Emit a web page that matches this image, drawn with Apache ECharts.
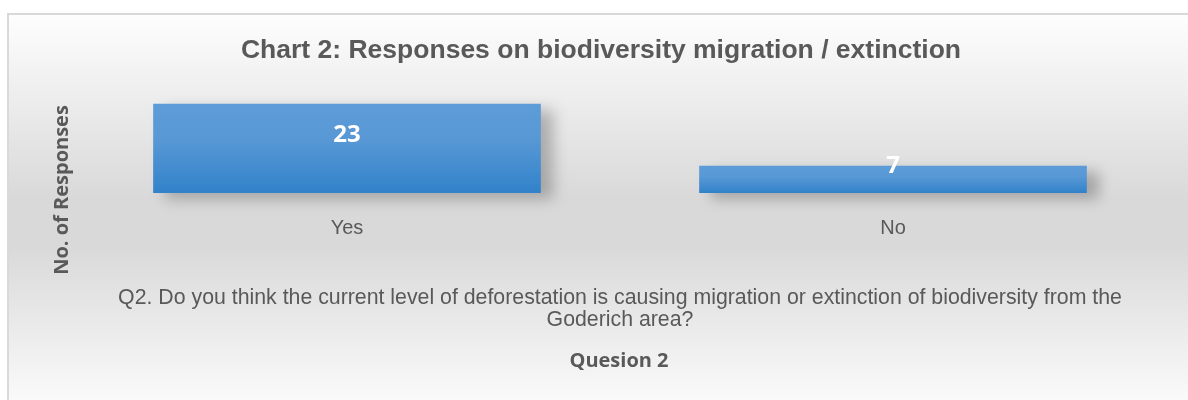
<!DOCTYPE html>
<html>
<head>
<meta charset="utf-8">
<title>Chart 2: Responses on biodiversity migration / extinction</title>
<script src="https://cdn.jsdelivr.net/npm/echarts@6/dist/echarts.min.js"></script>
<style>
  html, body { margin: 0; padding: 0; background: #ffffff; }
  #chart { width: 1188px; height: 400px; }
</style>
</head>
<body>
<div id="chart"></div>
<script>
// Survey answers to question 2
const categories = ['Yes', 'No'];
const responses = [23, 7];
const chartTitle = 'Chart 2: Responses on biodiversity migration / extinction';
const questionText = 'Q2. Do you think the current level of deforestation is causing migration or extinction of biodiversity from the\nGoderich area?';
const xAxisTitle = 'Quesion 2';
const yAxisTitle = 'No. of Responses';

const textGrey = '#595959';
const sansFont = '"Liberation Sans", Arial, sans-serif';
const boldFont = '"Open Sans", "Noto Sans", sans-serif';

const chart = echarts.init(document.getElementById('chart'), null, { renderer: 'canvas' });

chart.setOption({
  backgroundColor: '#ffffff',
  animation: false,
  title: [
    {
      text: chartTitle,
      left: 601, top: 37, textAlign: 'center', padding: 0,
      textStyle: { fontFamily: sansFont, fontSize: 26.5, fontWeight: 'bold', color: textGrey }
    },
    {
      text: questionText,
      left: 620, top: 287, textAlign: 'center', padding: 0,
      textStyle: { fontFamily: sansFont, fontSize: 21.3, fontWeight: 'normal', color: textGrey, lineHeight: 22 }
    },
    {
      text: xAxisTitle,
      left: 619, top: 351, textAlign: 'center', padding: 0,
      textStyle: { fontFamily: boldFont, fontSize: 20, fontWeight: 'bold', color: textGrey }
    }
  ],
  graphic: [
    {
      type: 'rect', z: -10, silent: true,
      shape: { x: 8, y: 14, width: 1200, height: 400 },
      style: {
        fill: new echarts.graphic.LinearGradient(0, 0, 0, 1, [
          { offset: 0, color: '#fefefe' },
          { offset: 0.46, color: '#d9d9d9' },
          { offset: 0.58, color: '#d9d9d9' },
          { offset: 1, color: '#fdfdfd' }
        ]),
        stroke: '#d9d9d9', lineWidth: 2
      }
    },
    {
      type: 'text', silent: true,
      x: 62, y: 190, rotation: Math.PI / 2,
      style: {
        text: yAxisTitle, fill: textGrey,
        font: 'bold 20px ' + boldFont,
        align: 'center', verticalAlign: 'middle'
      }
    }
  ],
  grid: { left: 74, right: 22, top: 96, bottom: 207, containLabel: false },
  xAxis: {
    type: 'category',
    data: categories,
    axisLine: { show: false },
    axisTick: { show: false },
    axisLabel: { margin: 25, fontFamily: sansFont, fontSize: 20, color: textGrey }
  },
  yAxis: {
    type: 'value',
    min: 0, max: 25,
    show: false,
    splitLine: { show: false }
  },
  series: [{
    type: 'bar',
    data: responses,
    barWidth: '71%',
    itemStyle: {
      color: new echarts.graphic.LinearGradient(0, 0, 0, 1, [
        { offset: 0, color: '#5d9cd7' },
        { offset: 0.4, color: '#5898d5' },
        { offset: 1, color: '#3182ca' }
      ]),
      shadowColor: 'rgba(0,0,0,0.25)',
      shadowBlur: 14,
      shadowOffsetX: 12,
      shadowOffsetY: 6
    },
    label: {
      show: true,
      position: 'inside',
      offset: [0, -13],
      color: '#ffffff',
      fontFamily: boldFont,
      fontSize: 24,
      fontWeight: 'bold'
    }
  }]
});
</script>
</body>
</html>
